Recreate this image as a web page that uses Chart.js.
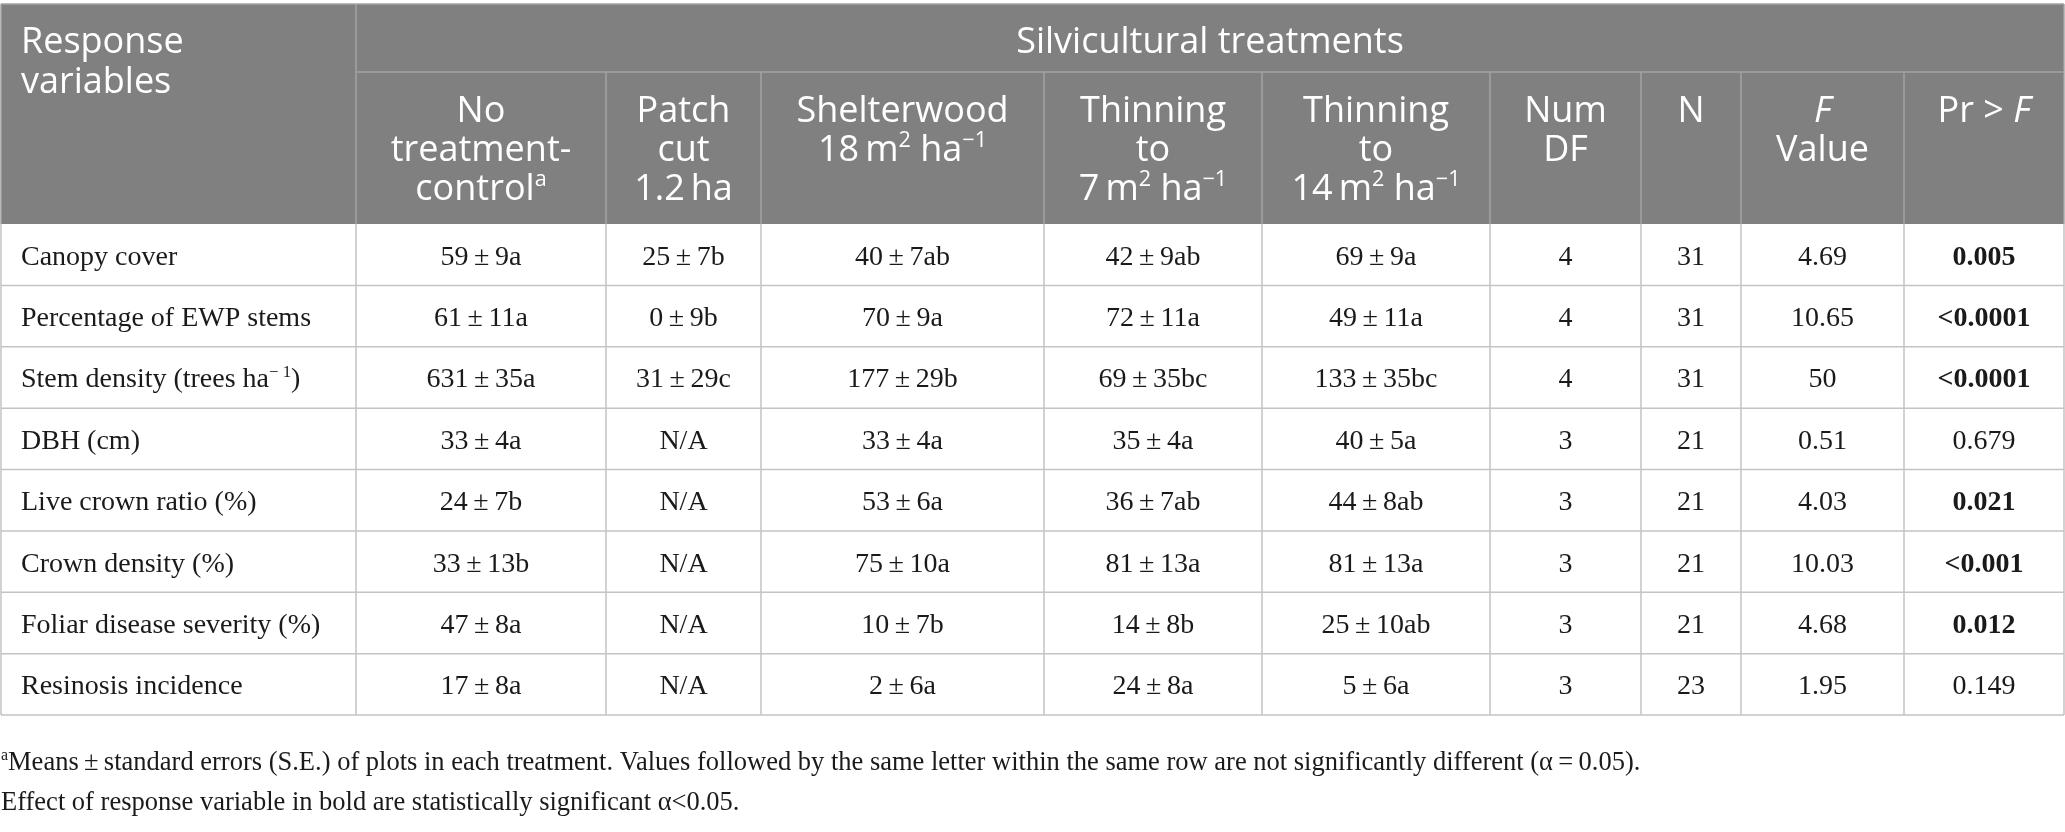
<!DOCTYPE html>
<html>
<head>
<meta charset="utf-8">
<script src="https://cdn.jsdelivr.net/npm/chart.js@4.4.1/dist/chart.umd.min.js"></script>
<style>
  html, body { margin: 0; padding: 0; background: #ffffff; }
  #wrap { width: 2065px; height: 832px; }
</style>
</head>
<body>
<div id="wrap"><canvas id="c" width="2065" height="832"></canvas></div>
<script>
// ---------------- DATA ----------------
const rowLabels = ['Canopy cover', 'Percentage of EWP stems', 'Stem density (trees ha^-1)', 'DBH (cm)',
  'Live crown ratio (%)', 'Crown density (%)', 'Foliar disease severity (%)', 'Resinosis incidence'];

const controlMean = [59, 61, 631, 33, 24, 33, 47, 17];
const controlSE   = [9, 11, 35, 4, 7, 13, 8, 8];
const controlGrp  = ['a', 'a', 'a', 'a', 'b', 'b', 'a', 'a'];

const patchMean = [25, 0, 31, null, null, null, null, null];
const patchSE   = [7, 9, 29, null, null, null, null, null];
const patchGrp  = ['b', 'b', 'c', null, null, null, null, null];

const shelterMean = [40, 70, 177, 33, 53, 75, 10, 2];
const shelterSE   = [7, 9, 29, 4, 6, 10, 7, 6];
const shelterGrp  = ['ab', 'a', 'b', 'a', 'a', 'a', 'b', 'a'];

const thin7Mean = [42, 72, 69, 35, 36, 81, 14, 24];
const thin7SE   = [9, 11, 35, 4, 7, 13, 8, 8];
const thin7Grp  = ['ab', 'a', 'bc', 'a', 'ab', 'a', 'b', 'a'];

const thin14Mean = [69, 49, 133, 40, 44, 81, 25, 5];
const thin14SE   = [9, 11, 35, 5, 8, 13, 10, 6];
const thin14Grp  = ['a', 'a', 'bc', 'a', 'ab', 'a', 'ab', 'a'];

const numDF   = [4, 4, 4, 3, 3, 3, 3, 3];
const nPlots  = [31, 31, 31, 21, 21, 21, 21, 23];
const fValues = ['4.69', '10.65', '50', '0.51', '4.03', '10.03', '4.68', '1.95'];
const pValues = ['0.005', '<0.0001', '<0.0001', '0.679', '0.021', '<0.001', '0.012', '0.149'];
const significant = [true, true, true, false, true, true, true, false];

const groupHeader = 'Silvicultural treatments';
const firstHeader = ['Response', 'variables'];
// header lines; segments: [text, style] style: '' | 'sup' | 'i'
const colHeaders = [
  [[['No', '']], [['treatment-', '']], [['control', ''], ['a', 'sup']]],
  [[['Patch', '']], [['cut', '']], [['1.2\u2009ha', '']]],
  [[['Shelterwood', '']], [['18\u2009m', ''], ['2', 'sup'], [' ha', ''], ['\u22121', 'sup']]],
  [[['Thinning', '']], [['to', '']], [['7\u2009m', ''], ['2', 'sup'], [' ha', ''], ['\u22121', 'sup']]],
  [[['Thinning', '']], [['to', '']], [['14\u2009m', ''], ['2', 'sup'], [' ha', ''], ['\u22121', 'sup']]],
  [[['Num', '']], [['DF', '']]],
  [[['N', '']]],
  [[['F', 'i']], [['Value', '']]],
  [[['Pr > ', ''], ['F', 'i']]]
];
const footnotes = [
  [['a', 'sup'], ['Means\u2009\u00b1\u2009standard errors (S.E.) of plots in each treatment. Values followed by the same letter within the same row are not significantly different (\u03b1\u2009=\u20090.05).', '']],
  [['Effect of response variable in bold are statistically significant \u03b1<0.05.', '']]
];

// ---------------- LAYOUT / STYLE ----------------
const colWidths = [355, 250, 155, 283, 218, 228, 151, 100, 163, 160];
const HEAD_TOP = 4, HEAD_MID = 72;
const HEAD_BG = '#808080', HEAD_LINE = '#a3a3a3', GRID = '#c4c4c4', TXT = '#1a1a1a';
const SANS = '"Open Sans", "Noto Sans", sans-serif';
const SERIF = '"Liberation Serif", "DejaVu Serif", serif';
const HEAD_SIZE = 36, BODY_SIZE = 28, FOOT_SIZE = 26.5;

function fmtCell(m, s, g) {
  if (m === null) return 'N/A';
  return m + '\u2009\u00b1\u2009' + s + g;
}

function fontFor(base, size, style, family) {
  let sz = style === 'sup' ? size * 0.6 : size;
  let pre = '';
  if (style === 'i' || base.italic) pre += 'italic ';
  if (base.bold) pre += 'bold ';
  return pre + sz.toFixed(1) + 'px ' + family;
}

function drawRich(ctx, segs, x, y, align, size, family, base) {
  base = base || {};
  let total = 0;
  const widths = segs.map(([t, st]) => {
    ctx.font = fontFor(base, size, st, family);
    const w = ctx.measureText(t).width;
    total += w;
    return w;
  });
  let cx = align === 'center' ? x - total / 2 : x;
  ctx.textAlign = 'left';
  ctx.textBaseline = 'alphabetic';
  segs.forEach(([t, st], i) => {
    ctx.font = fontFor(base, size, st, family);
    const dy = st === 'sup' ? -size * 0.38 : 0;
    ctx.fillText(t, cx, y + dy);
    cx += widths[i];
  });
}

function parseLabel(label) {
  const k = label.indexOf('^');
  if (k < 0) return [[label, '']];
  const rest = label.slice(k + 1);
  const close = rest.indexOf(')');
  return [[label.slice(0, k), ''], [rest.slice(0, close).replace('-', '\u2212 '), 'sup'], [rest.slice(close), '']];
}

const tablePlugin = {
  id: 'tablePlugin',
  beforeDraw(chart) {
    const ctx = chart.ctx;
    ctx.save();
    ctx.fillStyle = '#ffffff';
    ctx.fillRect(0, 0, chart.width, chart.height);
    ctx.restore();
  },
  afterDraw(chart) {
    const ctx = chart.ctx;
    const xs = chart.scales.x, ys = chart.scales.y;
    const cum = [0];
    colWidths.forEach(w => cum.push(cum[cum.length - 1] + w));
    const X = cum.map(v => xs.getPixelForValue(v));
    const Y = rowLabels.map((_, i) => ys.getPixelForValue(i));
    Y.push(ys.getPixelForValue(rowLabels.length));
    const headBottom = Y[0];
    ctx.save();

    // header background
    ctx.fillStyle = HEAD_BG;
    ctx.fillRect(X[0], HEAD_TOP, X[X.length - 1] - X[0], headBottom - HEAD_TOP);
    ctx.lineWidth = 1.5;
    ctx.strokeStyle = HEAD_LINE;
    ctx.beginPath();
    ctx.moveTo(X[0], HEAD_TOP); ctx.lineTo(X[X.length - 1], HEAD_TOP);
    ctx.moveTo(X[1], HEAD_MID); ctx.lineTo(X[X.length - 1], HEAD_MID);
    ctx.moveTo(X[1], HEAD_TOP); ctx.lineTo(X[1], headBottom);
    for (let i = 2; i < X.length - 1; i++) { ctx.moveTo(X[i], HEAD_MID); ctx.lineTo(X[i], headBottom); }
    ctx.moveTo(X[0], HEAD_TOP); ctx.lineTo(X[0], headBottom);
    ctx.moveTo(X[X.length - 1], HEAD_TOP); ctx.lineTo(X[X.length - 1], headBottom);
    ctx.stroke();

    // header text
    ctx.fillStyle = '#ffffff';
    drawRich(ctx, [[firstHeader[0], '']], X[0] + 20, HEAD_TOP + 49, 'left', HEAD_SIZE, SANS);
    drawRich(ctx, [[firstHeader[1], '']], X[0] + 20, HEAD_TOP + 89, 'left', HEAD_SIZE, SANS);
    drawRich(ctx, [[groupHeader, '']], (X[1] + X[X.length - 1]) / 2, HEAD_TOP + 49, 'center', HEAD_SIZE, SANS);
    colHeaders.forEach((lines, c) => {
      const cx = (X[c + 1] + X[c + 2]) / 2;
      lines.forEach((segs, li) => {
        drawRich(ctx, segs, cx, HEAD_MID + 50 + li * 39, 'center', HEAD_SIZE, SANS);
      });
    });

    // body grid
    ctx.strokeStyle = GRID;
    ctx.lineWidth = 1.5;
    ctx.beginPath();
    for (let r = 1; r < Y.length; r++) { ctx.moveTo(X[0], Y[r]); ctx.lineTo(X[X.length - 1], Y[r]); }
    for (let i = 0; i < X.length; i++) { ctx.moveTo(X[i], Y[0]); ctx.lineTo(X[i], Y[Y.length - 1]); }
    ctx.stroke();

    // body text
    ctx.fillStyle = TXT;
    const cols = [
      r => fmtCell(controlMean[r], controlSE[r], controlGrp[r]),
      r => fmtCell(patchMean[r], patchSE[r], patchGrp[r]),
      r => fmtCell(shelterMean[r], shelterSE[r], shelterGrp[r]),
      r => fmtCell(thin7Mean[r], thin7SE[r], thin7Grp[r]),
      r => fmtCell(thin14Mean[r], thin14SE[r], thin14Grp[r]),
      r => String(numDF[r]),
      r => String(nPlots[r]),
      r => fValues[r],
      r => pValues[r]
    ];
    rowLabels.forEach((lab, r) => {
      const base = (Y[r] + Y[r + 1]) / 2 + 10;
      drawRich(ctx, parseLabel(lab), X[0] + 20, base, 'left', BODY_SIZE, SERIF);
      cols.forEach((fn, c) => {
        const cx = (X[c + 1] + X[c + 2]) / 2;
        const opts = (c === cols.length - 1 && significant[r]) ? { bold: true } : {};
        drawRich(ctx, [[fn(r), '']], cx, base, 'center', BODY_SIZE, SERIF, opts);
      });
    });

    // footnotes
    drawRich(ctx, footnotes[0], X[0], Y[Y.length - 1] + 55, 'left', FOOT_SIZE, SERIF);
    drawRich(ctx, footnotes[1], X[0], Y[Y.length - 1] + 95, 'left', FOOT_SIZE, SERIF);
    ctx.restore();
  }
};

const totalW = colWidths.reduce((a, b) => a + b, 0);
new Chart(document.getElementById('c').getContext('2d'), {
  type: 'scatter',
  data: { datasets: [{ data: [] }] },
  options: {
    responsive: false,
    animation: false,
    devicePixelRatio: 1,
    layout: { padding: { top: 224, bottom: 117, left: 1, right: 1 } },
    plugins: { legend: { display: false }, tooltip: { enabled: false } },
    scales: {
      x: { type: 'linear', min: 0, max: totalW, display: false },
      y: { type: 'linear', min: 0, max: rowLabels.length, reverse: true, display: false }
    }
  },
  plugins: [tablePlugin]
});
</script>
</body>
</html>
